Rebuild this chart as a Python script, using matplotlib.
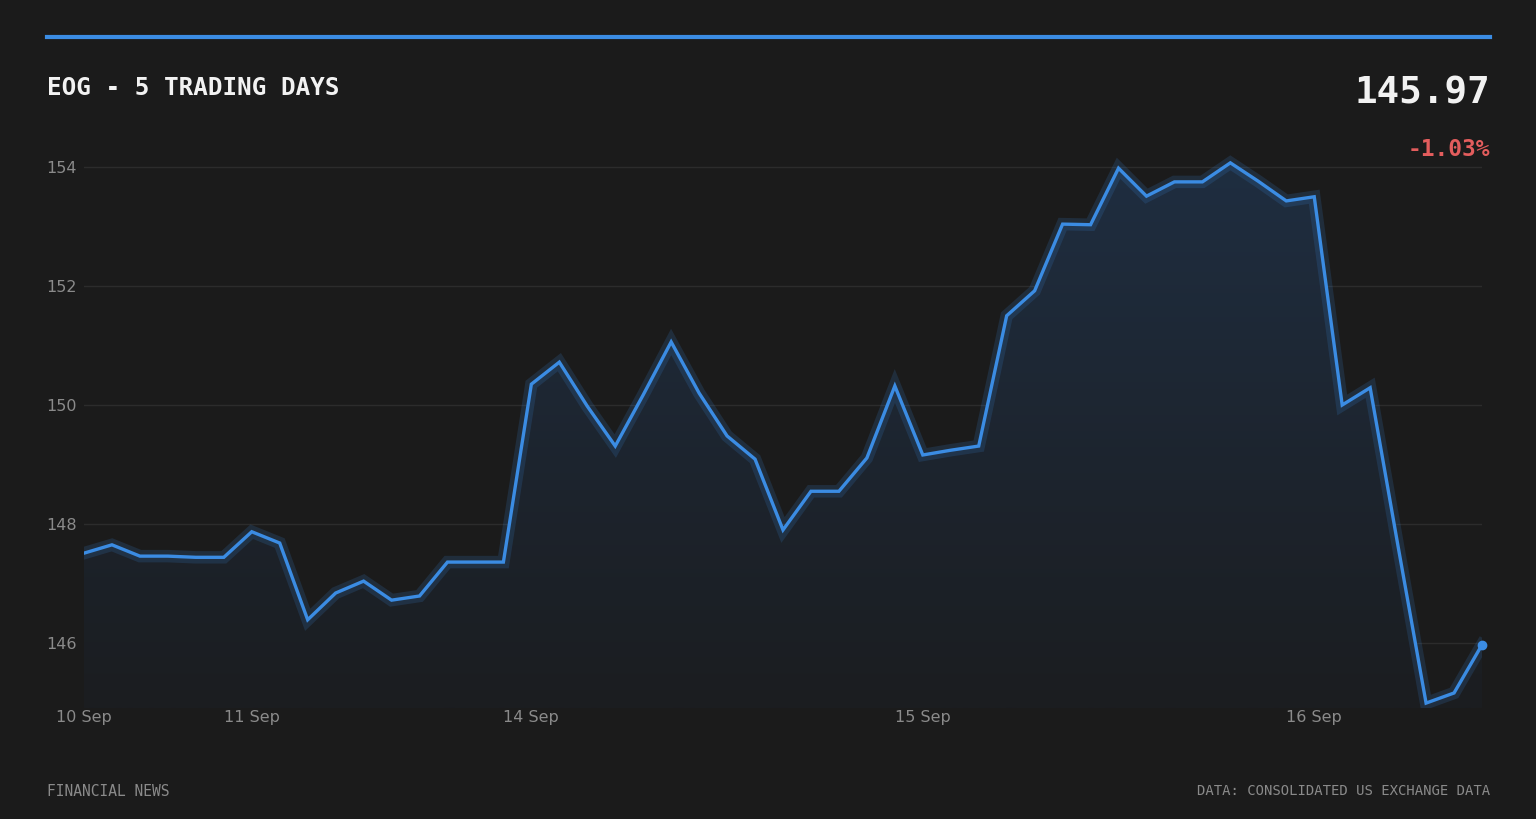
import matplotlib.pyplot as plt
import numpy as np
from matplotlib.patches import Polygon
from matplotlib.colors import LinearSegmentedColormap

# intraday closes, 51 samples over 5 sessions
prices = [
    147.51, 147.65, 147.46, 147.46, 147.44, 147.44, 147.87, 147.68, 146.39, 146.84,
    147.04, 146.72, 146.79, 147.36, 147.36, 147.36, 150.35, 150.72, 149.98, 149.31,
    150.17, 151.06, 150.20, 149.48, 149.09, 147.90, 148.55, 148.55, 149.11, 150.32,
    149.16, 149.24, 149.31, 151.50, 151.92, 153.04, 153.03, 153.98, 153.51, 153.75,
    153.75, 154.07, 153.76, 153.43, 153.50, 150.00, 150.29, 147.62, 144.99, 145.16,
    145.97,
]
day_ticks = [0, 6, 16, 30, 44]
day_labels = ["10 Sep", "11 Sep", "14 Sep", "15 Sep", "16 Sep"]
y_ticks = [146, 148, 150, 152, 154]

title = "EOG - 5 TRADING DAYS"
last_price = "145.97"
change_pct = "-1.03%"
source_left = "FINANCIAL NEWS"
source_right = "DATA: CONSOLIDATED US EXCHANGE DATA"

BG = "#1b1b1b"
BLUE = "#3b8ce3"
GRID = "#2c2c2c"
MUTED = "#8a8a8a"
RED = "#e35d5d"
MONO = "DejaVu Sans Mono"

W, H = 1536, 819
fig = plt.figure(figsize=(W / 100, H / 100), dpi=100, facecolor=BG)

y_lo, y_hi = 144.9, 154.2
px_per_unit = 59.5
top_px = 167 - (y_hi - 154) * px_per_unit
bot_px = 167 + (154 - y_lo) * px_per_unit
ax = fig.add_axes([84 / W, 1 - bot_px / H, (1482 - 84) / W, (bot_px - top_px) / H])
ax.set_facecolor(BG)

x = np.arange(len(prices))
y = np.array(prices)
ax.set_xlim(0, len(prices) - 1)
ax.set_ylim(y_lo, y_hi)

# gradient fill under the line
grad_cmap = LinearSegmentedColormap.from_list("fill", ["#1b1d20", "#1f2e41"])
grad = np.linspace(0, 1, 256).reshape(-1, 1)
img = ax.imshow(grad, cmap=grad_cmap, aspect="auto", origin="lower",
                extent=[0, len(prices) - 1, y_lo, y_hi], zorder=1)
verts = np.vstack([[0, y_lo], np.column_stack([x, y]), [len(prices) - 1, y_lo]])
poly = Polygon(verts, closed=True, facecolor="none", edgecolor="none")
ax.add_patch(poly)
img.set_clip_path(poly)

for v in y_ticks:
    ax.axhline(v, color=GRID, lw=1.0, zorder=0.5)

ax.plot(x, y, color=BLUE, lw=9, alpha=0.16, solid_joinstyle="miter", zorder=2)
ax.plot(x, y, color=BLUE, lw=2.4, solid_joinstyle="miter", zorder=3)
ax.plot(x[-1], y[-1], "o", color=BLUE, ms=6, zorder=4, clip_on=False)

ax.set_xticks(day_ticks)
ax.set_xticklabels(day_labels)
ax.set_yticks(y_ticks)
ax.set_yticklabels([str(v) for v in y_ticks])
ax.tick_params(colors=MUTED, labelsize=11.5, length=0)
ax.tick_params(axis="x", pad=1)
ax.tick_params(axis="y", pad=5)
for s in ax.spines.values():
    s.set_visible(False)

# header / footer
fig.add_artist(plt.Line2D([47 / W, 1490 / W], [1 - 37 / H, 1 - 37 / H],
                          color=BLUE, lw=3, transform=fig.transFigure))
fig.text(47 / W, 1 - 88 / H, title, color="#f2f2f2", fontsize=17.5,
         family=MONO, weight="bold", ha="left", va="center")
fig.text(1490 / W, 1 - 94 / H, last_price, color="#f2f2f2", fontsize=27,
         family=MONO, weight="bold", ha="right", va="center")
fig.text(1490 / W, 1 - 149 / H, change_pct, color=RED, fontsize=16.5,
         family=MONO, weight="bold", ha="right", va="center")
fig.text(47 / W, 1 - 791 / H, source_left, color=MUTED, fontsize=10.5,
         family=MONO, ha="left", va="center")
fig.text(1490 / W, 1 - 791 / H, source_right, color=MUTED, fontsize=10,
         family=MONO, ha="right", va="center")

fig.savefig("out.png", dpi=100, facecolor=BG)
